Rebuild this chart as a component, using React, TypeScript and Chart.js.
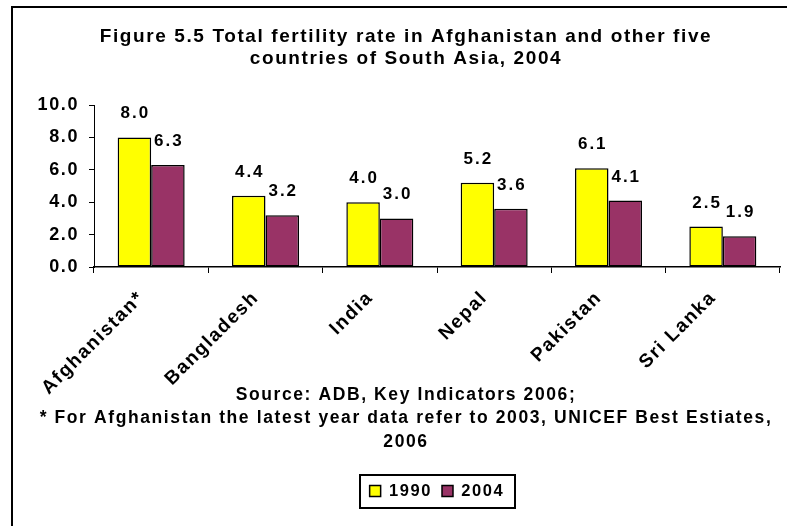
import React, { useEffect, useRef } from "react";
import { Chart, registerables } from "chart.js";

Chart.register(...registerables);

// ---- data ----
const categories = ["Afghanistan*", "Bangladesh", "India", "Nepal", "Pakistan", "Sri Lanka"];
const seriesNames = ["1990", "2004"];
const values1990 = [8.0, 4.4, 4.0, 5.2, 6.1, 2.5];
const values2004 = [6.3, 3.2, 3.0, 3.6, 4.1, 1.9];
const yTickValues = [0, 2, 4, 6, 8, 10];
const titleLines = [
  "Figure 5.5 Total fertility rate in Afghanistan and other five",
  "countries of South Asia, 2004",
];
const sourceLines = [
  "Source: ADB, Key Indicators 2006;",
  "* For Afghanistan the latest year data refer to 2003, UNICEF Best Estiates,",
  "2006",
];

const FAMILY = "'Liberation Sans', Arial, sans-serif";

const spacingPlugin = {
  id: "spacing",
  beforeLayout(chart: any) {
    chart.ctx.letterSpacing = "1.6px";
  },
  beforeDraw(chart: any) {
    chart.ctx.letterSpacing = "1.6px";
  },
};

const valueLabelPlugin = {
  id: "valueLabels",
  afterDatasetsDraw(chart: any) {
    const ctx = chart.ctx;
    ctx.save();
    ctx.letterSpacing = "2px";
    ctx.font = `bold 17px ${FAMILY}`;
    ctx.fillStyle = "#000";
    ctx.textAlign = "center";
    ctx.textBaseline = "alphabetic";
    chart.data.datasets.forEach((ds: any, i: number) => {
      const meta = chart.getDatasetMeta(i);
      meta.data.forEach((bar: any, j: number) => {
        ctx.fillText(Number(ds.data[j]).toFixed(1), bar.x + 1, bar.y - 19);
      });
    });
    ctx.restore();
  },
};

const legendFramePlugin = {
  id: "legendFrame",
  afterDraw(chart: any) {
    const lg = chart.legend;
    if (!lg || !lg.legendHitBoxes || !lg.legendHitBoxes.length) return;
    const hb = lg.legendHitBoxes;
    const left = Math.min(...hb.map((h: any) => h.left)) - 10;
    const right = Math.max(...hb.map((h: any) => h.left + h.width)) + 10;
    const mid = hb[0].top + hb[0].height / 2;
    const ctx = chart.ctx;
    ctx.save();
    ctx.strokeStyle = "#000";
    ctx.lineWidth = 2;
    ctx.strokeRect(Math.round(left), Math.round(mid - 16.5), Math.round(right - left), 33);
    ctx.restore();
  },
};

export default function App() {
  const canvasRef = useRef<HTMLCanvasElement | null>(null);

  useEffect(() => {
    if (!canvasRef.current) return;
    Chart.defaults.font.family = FAMILY;
    Chart.defaults.color = "#000";
    const chart = new Chart(canvasRef.current, {
      type: "bar",
      data: {
        labels: categories,
        datasets: [
          {
            label: seriesNames[0],
            data: values1990,
            backgroundColor: "#FFFF00",
            borderColor: "#000",
            borderWidth: 1.5,
            borderSkipped: false,
            categoryPercentage: 0.586,
            barPercentage: 1,
          },
          {
            label: seriesNames[1],
            data: values2004,
            backgroundColor: "#993366",
            borderColor: "#000",
            borderWidth: 1.5,
            borderSkipped: false,
            categoryPercentage: 0.586,
            barPercentage: 1,
          },
        ],
      },
      options: {
        animation: false,
        responsive: false,
        devicePixelRatio: 1,
        events: [],
        layout: { padding: { left: 32, right: 7, top: 0, bottom: 16.75 } },
        scales: {
          x: {
            grid: {
              display: true,
              drawOnChartArea: false,
              drawTicks: true,
              tickLength: 6,
              color: "#000",
              offset: true,
            },
            border: { display: true, color: "#000", width: 1.5 },
            ticks: {
              font: { size: 19, weight: "bold" },
              color: "#000",
              minRotation: 45,
              maxRotation: 45,
              autoSkip: false,
              padding: 4,
              callback: (_v: any, i: number) => categories[i] + "  ",
            },
            afterFit(scale: any) {
              scale.height = 136;
            },
          },
          y: {
            min: 0,
            max: 10,
            grid: { drawOnChartArea: false, drawTicks: true, tickLength: 5, color: "#000" },
            border: { display: true, color: "#000", width: 1 },
            ticks: {
              font: { size: 18, weight: "bold" },
              color: "#000",
              padding: 10,
              callback: (v: any) => Number(v).toFixed(1),
            },
            afterBuildTicks(scale: any) {
              scale.ticks = yTickValues.map((v) => ({ value: v }));
            },
            afterFit(scale: any) {
              scale.width = 62;
            },
          },
        },
        plugins: {
          tooltip: { enabled: false },
          title: {
            display: true,
            text: titleLines,
            color: "#000",
            font: { size: 19, weight: "bold", lineHeight: 22 / 19 },
            padding: { top: 25.4, bottom: 35.6 },
          },
          subtitle: {
            display: true,
            position: "bottom",
            weight: 500,
            text: sourceLines,
            color: "#000",
            font: { size: 17.5, weight: "bold", lineHeight: 23.5 / 17.5 },
            padding: { top: -20, bottom: 19.25 },
          },
          legend: {
            display: true,
            position: "bottom",
            fullSize: false,
            labels: {
              boxWidth: 11,
              boxHeight: 11,
              padding: 10,
              color: "#000",
              font: { size: 16.5, weight: "bold" },
            },
          },
        },
      } as any,
      plugins: [spacingPlugin, valueLabelPlugin, legendFramePlugin],
    });
    return () => chart.destroy();
  }, []);

  return (
    <div style={{ position: "fixed", left: 0, top: 0, width: 787, height: 526, background: "#fff", overflow: "hidden" }}>
      <canvas ref={canvasRef} width={787} height={526} style={{ display: "block" }} />
      <div
        style={{
          position: "absolute",
          left: 11,
          top: 6,
          width: 900,
          height: 700,
          borderLeft: "2px solid #000",
          borderTop: "2px solid #000",
          pointerEvents: "none",
        }}
      />
    </div>
  );
}
